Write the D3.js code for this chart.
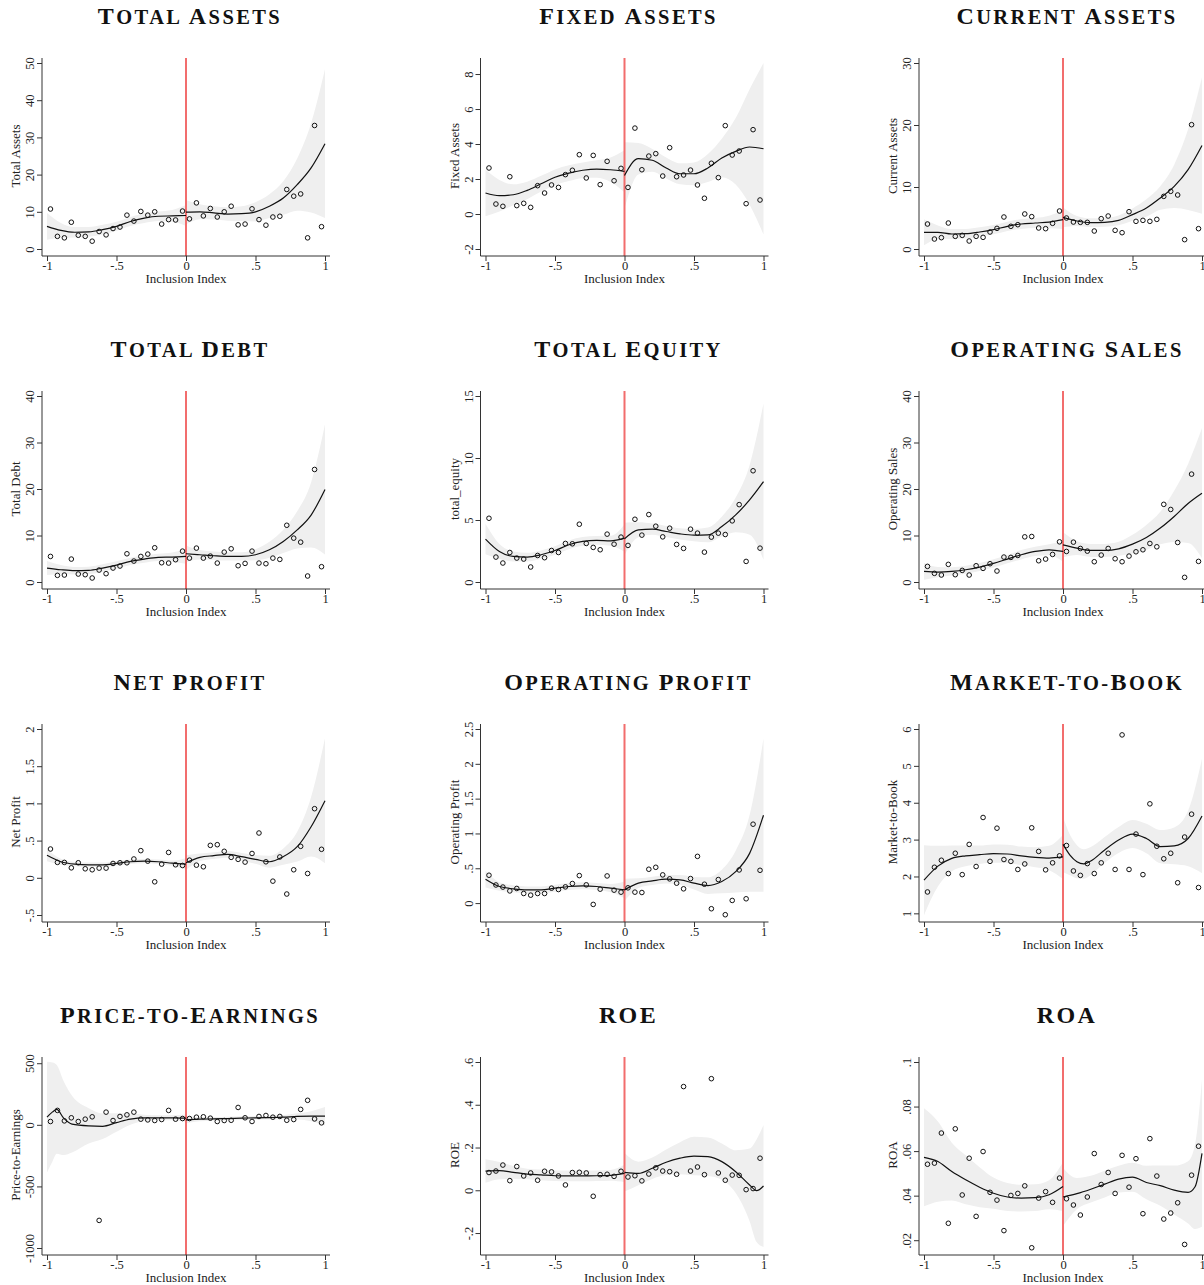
<!DOCTYPE html>
<html>
<head>
<meta charset="utf-8">
<script src="https://cdn.jsdelivr.net/npm/d3@7"></script>
<style>
body { margin: 0; background: #fff; }
svg text { font-family: "Liberation Serif", "Times New Roman", serif; fill: #222; }
.ptitle { font-weight: bold; fill: #111; letter-spacing: 2.4px; }
</style>
</head>
<body>
<div id="chart"></div>
<script>
'use strict';

// bin midpoints of the inclusion index
var bins = [-0.975,-0.925,-0.875,-0.825,-0.775,-0.725,-0.675,-0.625,-0.575,-0.525,
            -0.475,-0.425,-0.375,-0.325,-0.275,-0.225,-0.175,-0.125,-0.075,-0.025,
            0.025,0.075,0.125,0.175,0.225,0.275,0.325,0.375,0.425,0.475,
            0.525,0.575,0.625,0.675,0.725,0.775,0.825,0.875,0.925,0.975];

// x positions where the fit / ci were read
var gridL = [-1,-0.9,-0.8,-0.7,-0.6,-0.5,-0.4,-0.3,-0.2,-0.1,0];
var gridR = [0,0.1,0.2,0.3,0.4,0.5,0.6,0.7,0.8,0.9,1];
var gridRFine = [0,0.1,0.2,0.3,0.4,0.5,0.6,0.7,0.8,0.9,0.95,1];
var gridRMb = [0,0.05,0.1,0.15,0.2,0.3,0.4,0.5,0.6,0.7,0.8,0.9,1];
var gridLPe = [-1,-0.96,-0.93,-0.88,-0.82,-0.7,-0.6,-0.5,-0.4,-0.3,-0.2,-0.1,0];

var xTicks = [-1,-0.5,0,0.5,1];
var xTickLabels = ["-1","-.5","0",".5","1"];

// ---- Total Assets
var totalAssetsPts = [10.75,3.4,3.0,7.2,3.7,3.4,2.1,4.7,3.8,5.5,5.9,9.1,7.5,10.1,9.1,10.0,6.7,7.9,7.8,10.2,
                      8.1,12.4,8.9,10.9,8.6,10.0,11.5,6.5,6.7,10.8,7.9,6.4,8.6,8.8,16.0,14.2,14.8,3.0,33.2,6.0];
var totalAssetsFitL = [6.1,5.0,4.5,4.6,5.2,6.1,7.4,8.3,8.8,8.9,9.0];
var totalAssetsFitR = [9.9,10.0,9.7,9.4,9.5,10.0,11.5,13.7,17.3,21.8,28.3];
var totalAssetsCiL = [3.6,2.0,1.4,1.3,1.3,1.2,1.2,1.3,1.3,1.6,2.8];
var totalAssetsCiR = [3.3,2.0,1.8,1.8,2.0,2.6,3.2,4.5,7,12,20];

// ---- Fixed Assets
var fixedAssetsPts = [2.63,0.57,0.44,2.13,0.48,0.61,0.38,1.62,1.20,1.66,1.52,2.25,2.50,3.39,2.06,3.35,1.68,3.01,1.90,2.61,
                      1.52,4.91,2.53,3.31,3.45,2.17,3.79,2.13,2.23,2.51,1.66,0.90,2.90,2.08,5.05,3.37,3.60,0.59,4.82,0.80];
var fixedAssetsFitL = [1.20,1.05,1.10,1.35,1.73,2.10,2.34,2.50,2.57,2.53,2.44];
var fixedAssetsFitR = [2.2,3.16,3.07,2.63,2.30,2.30,2.63,3.20,3.58,3.83,3.73];
var fixedAssetsCiL = [1.33,0.9,0.6,0.5,0.45,0.45,0.45,0.45,0.5,0.7,1.2];
var fixedAssetsCiR = [1.9,0.9,0.65,0.6,0.6,0.65,0.8,1.1,1.9,3.3,4.9];

// ---- Current Assets
var currentAssetsPts = [4.03,1.61,1.83,4.19,2.04,2.20,1.29,2.04,1.88,2.74,3.33,5.16,3.66,3.92,5.65,5.22,3.39,3.28,4.14,6.13,
                        5.0,4.35,4.30,4.30,2.90,4.89,5.32,3.01,2.63,6.02,4.46,4.62,4.46,4.78,8.49,9.30,8.71,1.51,20.05,3.28];
var currentAssetsFitL = [2.69,2.69,2.42,2.47,2.74,3.12,3.66,4.03,4.19,4.35,4.73];
var currentAssetsFitR = [5.1,4.52,4.25,4.30,4.62,5.54,6.61,8.23,10.1,12.8,16.7];
var currentAssetsCiL = [2.1,1.1,0.8,0.75,0.75,0.75,0.75,0.8,0.8,1.0,1.5];
var currentAssetsCiR = [1.6,0.8,0.7,0.7,0.8,1.0,1.4,1.9,3.5,6.5,11];

// ---- Total Debt
var totalDebtPts = [5.5,1.43,1.5,4.93,1.71,1.57,0.86,2.57,1.79,3.0,3.43,6.07,4.5,5.5,6.0,7.36,4.14,4.07,4.79,6.64,
                    5.14,7.29,5.14,5.57,4.07,6.43,7.14,3.5,4.0,6.64,4.07,3.93,5.14,4.86,12.2,9.43,8.57,1.29,24.2,3.29];
var totalDebtFitL = [3.0,2.64,2.43,2.5,3.0,3.64,4.43,4.93,5.29,5.36,5.5];
var totalDebtFitR = [6.07,5.86,5.64,5.5,5.5,5.86,6.93,8.71,11.2,14.4,19.9];
var totalDebtCiL = [1.5,1.0,0.8,0.8,0.8,0.8,0.8,0.8,0.8,1.0,1.6];
var totalDebtCiR = [1.8,1.0,0.9,0.9,0.9,1.2,1.7,2.5,4.0,7.0,14];

// ---- Total Equity
var totalEquityPts = [5.14,2.01,1.53,2.38,1.93,1.85,1.21,2.14,1.96,2.54,2.38,3.11,3.08,4.66,3.11,2.79,2.60,3.86,3.05,3.62,
                      2.95,5.06,3.78,5.44,4.50,3.64,4.34,3.03,2.71,4.26,3.94,2.41,3.62,3.94,3.83,4.93,6.24,1.66,8.97,2.73];
var totalEquityFitL = [3.46,2.46,2.06,2.01,2.20,2.54,3.0,3.27,3.35,3.32,3.54];
var totalEquityFitR = [3.48,4.21,4.26,4.07,3.88,3.78,3.80,4.47,5.41,6.62,8.09];
var totalEquityCiL = [1.23,0.6,0.4,0.35,0.35,0.35,0.35,0.35,0.35,0.4,1.1];
var totalEquityCiR = [1.3,0.6,0.45,0.45,0.45,0.5,0.6,0.8,1.4,2.8,6.3];

// ---- Operating Sales
var operatingSalesPts = [3.36,1.86,1.5,3.79,1.57,2.5,1.5,3.5,2.93,3.93,2.36,5.36,5.29,5.71,9.71,9.79,4.57,4.93,5.93,8.64,
                         6.57,8.57,7.21,6.64,4.36,5.79,7.21,5.0,4.36,5.57,6.5,6.93,8.29,7.57,16.7,15.6,8.5,1.0,23.2,4.43];
var operatingSalesFitL = [2.29,2.14,2.29,2.64,3.21,4.0,4.93,5.86,6.57,6.93,6.57];
var operatingSalesFitR = [8.0,7.29,6.79,6.79,7.14,8.14,9.57,11.6,14.1,16.9,19.1];
var operatingSalesCiL = [1.8,1.1,0.9,0.85,0.85,0.9,0.9,1.0,1.0,1.2,2.2];
var operatingSalesCiR = [2.7,1.5,1.4,1.4,1.5,2.0,2.7,3.5,5.5,8.5,14];

// ---- Net Profit
var netProfitPts = [0.387,0.207,0.207,0.134,0.202,0.121,0.108,0.130,0.130,0.193,0.202,0.202,0.253,0.365,0.224,-0.054,0.184,0.341,0.175,0.166,
                    0.237,0.170,0.148,0.436,0.445,0.356,0.275,0.248,0.211,0.327,0.602,0.215,-0.045,0.280,-0.218,0.108,0.423,0.058,0.929,0.383];
var netProfitFitL = [0.302,0.216,0.184,0.175,0.175,0.193,0.216,0.224,0.216,0.197,0.184];
var netProfitFitR = [0.202,0.275,0.298,0.315,0.284,0.248,0.216,0.284,0.418,0.687,1.037];
var netProfitCiL = [0.08,0.04,0.03,0.03,0.03,0.03,0.03,0.03,0.03,0.035,0.08];
var netProfitCiR = [0.1,0.05,0.045,0.045,0.05,0.06,0.08,0.11,0.2,0.4,0.84];

// ---- Operating Profit
var operatingProfitPts = [0.40,0.26,0.23,0.175,0.21,0.138,0.114,0.138,0.138,0.214,0.195,0.233,0.281,0.395,0.262,-0.019,0.2,0.39,0.186,0.157,
                          0.219,0.157,0.152,0.486,0.514,0.405,0.348,0.286,0.205,0.352,0.671,0.271,-0.081,0.338,-0.167,0.038,0.476,0.062,1.133,0.471];
var operatingProfitFitL = [0.343,0.238,0.205,0.19,0.19,0.214,0.238,0.248,0.238,0.214,0.19];
var operatingProfitFitR = [0.19,0.286,0.319,0.343,0.333,0.286,0.252,0.31,0.452,0.714,1.262];
var operatingProfitCiL = [0.12,0.06,0.05,0.05,0.05,0.05,0.05,0.05,0.05,0.06,0.12];
var operatingProfitCiR = [0.16,0.07,0.06,0.06,0.07,0.09,0.12,0.17,0.3,0.55,1.1];

// ---- Market-to-Book
var marketToBookPts = [1.58,2.25,2.44,2.08,2.63,2.05,2.87,2.27,3.60,2.41,3.31,2.46,2.41,2.19,2.34,3.32,2.68,2.18,2.37,2.56,
                       2.84,2.15,2.03,2.35,2.08,2.37,2.63,2.19,5.84,2.19,3.15,2.05,3.97,2.82,2.48,2.63,1.83,3.07,3.69,1.70];
var marketToBookFitL = [1.90,2.28,2.49,2.56,2.59,2.62,2.61,2.56,2.52,2.50,2.53];
var marketToBookFitR = [2.87,2.58,2.40,2.34,2.42,2.72,2.99,3.15,3.03,2.81,2.83,3.03,3.64];
var marketToBookCiL = [0.95,0.55,0.35,0.28,0.25,0.25,0.25,0.25,0.27,0.33,0.6];
var marketToBookCiR = [0.75,0.55,0.45,0.4,0.38,0.35,0.35,0.38,0.4,0.45,0.5,0.75,1.55];

// ---- Price-to-Earnings
var priceEarningsPts = [27,117,32,57,27,46,65,-776,103,35,68,81,103,46,40,35,43,117,46,51,
                        51,62,65,54,27,35,37,141,57,27,68,76,62,68,37,43,125,199,48,16];
var priceEarningsFitL = [62,105,125,54,5,-9,-12,18,46,57,57,57,54];
var priceEarningsFitR = [40,46,48,51,54,57,59,62,68,70,70];
var priceEarningsCiL = [450,400,360,300,230,143,104,75,45,25,20,20,30];
var priceEarningsCiR = [28,18,15,15,15,15,15,18,25,40,75];

// ---- ROE
var roePts = [0.083,0.090,0.118,0.045,0.111,0.067,0.081,0.047,0.089,0.086,0.067,0.025,0.083,0.084,0.081,-0.028,0.073,0.075,0.065,0.089,
              0.062,0.068,0.044,0.076,0.105,0.090,0.087,0.075,0.485,0.090,0.109,0.073,0.522,0.081,0.047,0.071,0.070,0.003,0.008,0.150];
var roeFitL = [0.090,0.092,0.084,0.076,0.072,0.068,0.067,0.067,0.068,0.070,0.079];
var roeFitR = [0.084,0.079,0.103,0.131,0.150,0.160,0.157,0.134,0.087,0.025,-0.002,0.02];
var roeCiL = [0.055,0.04,0.03,0.025,0.025,0.025,0.025,0.025,0.025,0.025,0.04];
var roeCiR = [0.09,0.055,0.05,0.06,0.075,0.09,0.09,0.085,0.1,0.17,0.24,0.285];

// ---- ROA
var roaPts = [0.0541,0.0546,0.0681,0.0276,0.0700,0.0403,0.0568,0.0307,0.0598,0.0415,0.0380,0.0243,0.0401,0.0410,0.0444,0.0166,0.0389,0.0418,0.0370,0.0479,
              0.0386,0.0358,0.0313,0.0394,0.0589,0.0450,0.0504,0.0410,0.0581,0.0438,0.0566,0.0319,0.0656,0.0488,0.0295,0.0322,0.0368,0.0181,0.0492,0.0622];
var roaFitL = [0.0572,0.0553,0.0508,0.0471,0.0438,0.0411,0.0394,0.0389,0.0391,0.0404,0.0441];
var roaFitR = [0.0394,0.0409,0.0429,0.0452,0.0474,0.0483,0.0459,0.0445,0.0425,0.0415,0.0440,0.0590];
var roaCiL = [0.022,0.018,0.013,0.011,0.009,0.007,0.0063,0.006,0.006,0.0065,0.011];
var roaCiR = [0.013,0.007,0.006,0.006,0.006,0.0065,0.0075,0.009,0.011,0.014,0.019,0.033];

var panels = [
  { title: "Total Assets", ylab: "Total Assets", domain: [0, 50], ticks: [0,10,20,30,40,50], labels: ["0","10","20","30","40","50"],
    pts: totalAssetsPts, gL: gridL, fitL: totalAssetsFitL, ciL: totalAssetsCiL, gR: gridR, fitR: totalAssetsFitR, ciR: totalAssetsCiR },
  { title: "Fixed Assets", ylab: "Fixed Assets", domain: [-2, 8.63], ticks: [-2,0,2,4,6,8], labels: ["-2","0","2","4","6","8"],
    pts: fixedAssetsPts, gL: gridL, fitL: fixedAssetsFitL, ciL: fixedAssetsCiL, gR: gridR, fitR: fixedAssetsFitR, ciR: fixedAssetsCiR },
  { title: "Current Assets", ylab: "Current Assets", domain: [0, 30], ticks: [0,10,20,30], labels: ["0","10","20","30"],
    pts: currentAssetsPts, gL: gridL, fitL: currentAssetsFitL, ciL: currentAssetsCiL, gR: gridR, fitR: currentAssetsFitR, ciR: currentAssetsCiR },
  { title: "Total Debt", ylab: "Total Debt", domain: [0, 40], ticks: [0,10,20,30,40], labels: ["0","10","20","30","40"],
    pts: totalDebtPts, gL: gridL, fitL: totalDebtFitL, ciL: totalDebtCiL, gR: gridR, fitR: totalDebtFitR, ciR: totalDebtCiR },
  { title: "Total Equity", ylab: "total_equity", domain: [0, 15], ticks: [0,5,10,15], labels: ["0","5","10","15"],
    pts: totalEquityPts, gL: gridL, fitL: totalEquityFitL, ciL: totalEquityCiL, gR: gridR, fitR: totalEquityFitR, ciR: totalEquityCiR },
  { title: "Operating Sales", ylab: "Operating Sales", domain: [0, 40], ticks: [0,10,20,30,40], labels: ["0","10","20","30","40"],
    pts: operatingSalesPts, gL: gridL, fitL: operatingSalesFitL, ciL: operatingSalesCiL, gR: gridR, fitR: operatingSalesFitR, ciR: operatingSalesCiR },
  { title: "Net Profit", ylab: "Net Profit", domain: [-0.5, 2], ticks: [-0.5,0,0.5,1,1.5,2], labels: ["-.5","0",".5","1","1.5","2"],
    pts: netProfitPts, gL: gridL, fitL: netProfitFitL, ciL: netProfitCiL, gR: gridR, fitR: netProfitFitR, ciR: netProfitCiR },
  { title: "Operating Profit", ylab: "Operating Profit", domain: [-0.171, 2.5], ticks: [0,0.5,1,1.5,2,2.5], labels: ["0",".5","1","1.5","2","2.5"],
    pts: operatingProfitPts, gL: gridL, fitL: operatingProfitFitL, ciL: operatingProfitCiL, gR: gridR, fitR: operatingProfitFitR, ciR: operatingProfitCiR },
  { title: "Market-to-Book", ylab: "Market-to-Book", domain: [0.955, 6], ticks: [1,2,3,4,5,6], labels: ["1","2","3","4","5","6"],
    pts: marketToBookPts, gL: gridL, fitL: marketToBookFitL, ciL: marketToBookCiL, gR: gridRMb, fitR: marketToBookFitR, ciR: marketToBookCiR },
  { title: "Price-to-Earnings", ylab: "Price-to-Earnings", domain: [-1000, 510], ticks: [-1000,-500,0,500], labels: ["-1000","-500","0","500"],
    pts: priceEarningsPts, gL: gridLPe, fitL: priceEarningsFitL, ciL: priceEarningsCiL, gR: gridR, fitR: priceEarningsFitR, ciR: priceEarningsCiR },
  { title: "ROE", ylab: "ROE", domain: [-0.27, 0.6], ticks: [-0.2,0,0.2,0.4,0.6], labels: ["-.2","0",".2",".4",".6"],
    pts: roePts, gL: gridL, fitL: roeFitL, ciL: roeCiL, gR: gridRFine, fitR: roeFitR, ciR: roeCiR },
  { title: "ROA", ylab: "ROA", domain: [0.0165, 0.1], ticks: [0.02,0.04,0.06,0.08,0.1], labels: [".02",".04",".06",".08",".1"],
    pts: roaPts, gL: gridL, fitL: roaFitL, ciL: roaCiL, gR: gridRFine, fitR: roaFitR, ciR: roaCiR }
];

var width = 1204, height = 1285;
var plotW = 288, plotH = 198;   // plot region (axis lines)
var pad = 5;                    // inner margin before data range

var svg = d3.select("#chart").append("svg")
    .attr("width", width)
    .attr("height", height);

// fake small caps: capitals big, the rest upper-cased and smaller
function smallCaps(textSel, str) {
    var runs = [];
    str.split("").forEach(function(c){
        var big = c !== c.toLowerCase();
        var last = runs[runs.length - 1];
        if (last && last.big === big) last.t += c;
        else runs.push({ big: big, t: c });
    });
    runs.forEach(function(r){
        textSel.append("tspan")
            .style("font-size", r.big ? "24px" : "20.5px")
            .text(r.t.toUpperCase());
    });
}

function drawPanel(p, idx) {
    var col = idx % 3, row = Math.floor(idx / 3);
    var left = 42 + col * 438.5,
        top = 58 + row * 333;

    var g = svg.append("g")
        .attr("transform", "translate(" + left + "," + top + ")");

    var x = d3.scaleLinear().domain([-1, 1]).range([pad, plotW - pad]);
    var y = d3.scaleLinear().domain(p.domain).range([plotH - 7, pad]);

    g.append("clipPath").attr("id", "clip" + idx)
        .append("rect").attr("x", 0).attr("y", 0).attr("width", plotW).attr("height", plotH);

    var body = g.append("g").attr("clip-path", "url(#clip" + idx + ")");

    var area = d3.area()
        .x(function(d){ return x(d[0]); })
        .y0(function(d){ return y(d[1] - d[2]); })
        .y1(function(d){ return y(d[1] + d[2]); })
        .curve(d3.curveMonotoneX);
    var line = d3.line()
        .x(function(d){ return x(d[0]); })
        .y(function(d){ return y(d[1]); })
        .curve(d3.curveMonotoneX);

    var sides = [
        p.gL.map(function(v, i){ return [v, p.fitL[i], p.ciL[i]]; }),
        p.gR.map(function(v, i){ return [v, p.fitR[i], p.ciR[i]]; })
    ];

    // confidence bands
    sides.forEach(function(s){
        body.append("path").datum(s)
            .attr("d", area)
            .attr("fill", "#efefef");
    });

    // cutoff line
    body.append("line")
        .attr("x1", x(0)).attr("x2", x(0))
        .attr("y1", 0).attr("y2", plotH)
        .attr("stroke", "#f26d6d")
        .attr("stroke-width", 2);

    // fitted lines
    sides.forEach(function(s){
        body.append("path").datum(s)
            .attr("d", line)
            .attr("fill", "none")
            .attr("stroke", "#111")
            .attr("stroke-width", 1.2);
    });

    // binned means
    body.selectAll(".pt")
        .data(p.pts)
        .enter().append("circle")
        .attr("cx", function(d, i){ return x(bins[i]); })
        .attr("cy", function(d){ return y(d); })
        .attr("r", 2.3)
        .attr("fill", "none")
        .attr("stroke", "#111")
        .attr("stroke-width", 1);

    // axes
    var yAxis = g.append("g").call(
        d3.axisLeft(y).tickValues(p.ticks)
            .tickFormat(function(d, i){ return p.labels[i]; })
            .tickSize(5).tickSizeOuter(0));
    yAxis.select(".domain").remove();
    yAxis.selectAll("line").attr("stroke", "#333");
    yAxis.selectAll("text")
        .attr("x", null).attr("dy", null)
        .attr("transform", "translate(-8,0) rotate(-90)")
        .attr("text-anchor", "middle")
        .style("font-size", "12.5px")
        .style("font-family", "Liberation Serif, serif")
        .attr("fill", "#222");

    var xAxis = g.append("g")
        .attr("transform", "translate(0," + plotH + ")")
        .call(d3.axisBottom(x).tickValues(xTicks)
            .tickFormat(function(d, i){ return xTickLabels[i]; })
            .tickSize(5).tickSizeOuter(0));
    xAxis.select(".domain").remove();
    xAxis.selectAll("line").attr("stroke", "#333");
    xAxis.selectAll("text")
        .attr("y", 5)
        .style("font-size", "12.5px")
        .style("font-family", "Liberation Serif, serif")
        .attr("fill", "#222");

    g.append("line").attr("x1", 0).attr("x2", 0).attr("y1", 0).attr("y2", plotH)
        .attr("stroke", "#333").attr("stroke-width", 1);
    g.append("line").attr("x1", 0).attr("x2", plotW).attr("y1", plotH).attr("y2", plotH)
        .attr("stroke", "#333").attr("stroke-width", 1);

    g.append("text")
        .attr("x", plotW / 2)
        .attr("y", plotH + 27)
        .attr("text-anchor", "middle")
        .style("font-size", "13px")
        .text("Inclusion Index");

    g.append("text")
        .attr("transform", "translate(-22," + (plotH / 2 - 1) + ") rotate(-90)")
        .attr("text-anchor", "middle")
        .style("font-size", "13px")
        .text(p.ylab);

    var t = g.append("text")
        .attr("class", "ptitle")
        .attr("x", plotW / 2 + 4)
        .attr("y", -34)
        .attr("text-anchor", "middle");
    smallCaps(t, p.title);
}

panels.forEach(drawPanel);
</script>
</body>
</html>
